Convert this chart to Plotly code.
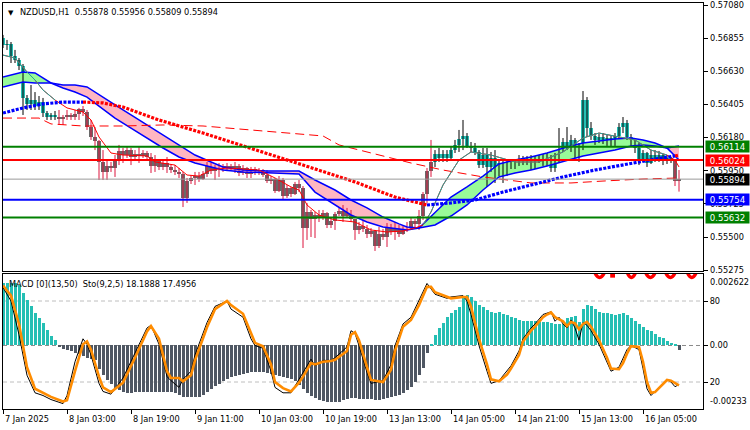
import plotly.graph_objects as go

# ---------------- data ----------------
date_idx = [0, 16, 32, 48, 64, 80, 96, 112, 128, 144, 160]
date_txt = ["7 Jan 2025", "8 Jan 03:00", "8 Jan 19:00", "9 Jan 11:00", "10 Jan 03:00",
            "10 Jan 19:00", "13 Jan 13:00", "14 Jan 05:00", "14 Jan 21:00",
            "15 Jan 13:00", "16 Jan 05:00"]

price_ticks = [0.57080, 0.56855, 0.56630, 0.56405, 0.56180, 0.55950, 0.55725, 0.55500, 0.55275]
price_tick_txt = ["0.57080", "0.56855", "0.56630", "0.56405", "0.56180", "0.55950",
                  "0.55725", "0.55500", "0.55275"]

levels = [0.56114, 0.56024, 0.55894, 0.55754, 0.55632]
level_txt = ["0.56114", "0.56024", "0.55894", "0.55754", "0.55632"]

open_p = [
    .56855, .56808, .56814, .56733, .56705, .56665, .56447, .56406, .56433, .56392,
    .56419, .56344, .56317, .56331, .56317, .56304, .56317, .56331, .56317, .56338,
    .56372, .56351, .56249, .56181, .56154, .56011, .55943, .55984, .55970, .56018,
    .56086, .56058, .56092, .56045, .56065, .56052, .56072, .56045, .55984, .56018,
    .55977, .56004, .55977, .55956, .55943, .55929, .55766, .55881, .55902, .55915,
    .55895, .55929, .55984, .55949, .55970, .55984, .55963, .55984, .55970, .55984,
    .55936, .55970, .55929, .55963, .55943, .55956, .55922, .55881, .55895, .55813,
    .55888, .55779, .55834, .55793, .55861, .55834, .55561, .55670, .55623, .55650,
    .55636, .55663, .55582, .55609, .55657, .55677, .55643, .55677, .55623, .55548,
    .55575, .55555, .55520, .55541, .55439, .55520, .55500, .55561, .55534, .55575,
    .55520, .55555, .55568, .55609, .55589, .55643, .55793, .55949, .56011, .56065,
    .56038, .56065, .56038, .56092, .56127, .56167, .56188, .56120, .56106, .56079,
    .55990, .56058, .55977, .56038, .55949, .56004, .55943, .55997, .55984, .56011,
    .56031, .56004, .56031, .55984, .56018, .56038, .56004, .56052, .55970, .56045,
    .56092, .56147, .56113, .56161, .56092, .56106, .56433, .56242, .56188, .56161,
    .56181, .56154, .56174, .56133, .56188, .56249, .56276, .56181, .56147, .56106,
    .56024, .56072, .56004, .56058, .56031, .56058, .56018, .56038, .56024, .55878]
high_p = [
    .56876, .56842, .56828, .56774, .56719, .56678, .56467, .56535, .56487, .56460,
    .56447, .56358, .56344, .56358, .56365, .56331, .56365, .56344, .56365, .56379,
    .56392, .56365, .56297, .56249, .56161, .56092, .56024, .56011, .56058, .56127,
    .56106, .56113, .56106, .56092, .56113, .56092, .56086, .56072, .56058, .56031,
    .56024, .56045, .55997, .55990, .55970, .55943, .55902, .55922, .55943, .55943,
    .55949, .56011, .56004, .55990, .56004, .55997, .56004, .55997, .56011, .55997,
    .55990, .55977, .55977, .55977, .55970, .55963, .55956, .55915, .55902, .55915,
    .55902, .55854, .55841, .55875, .55888, .55847, .55732, .55684, .55670, .55684,
    .55684, .55670, .55629, .55670, .55698, .55718, .55698, .55684, .55623, .55602,
    .55616, .55582, .55561, .55548, .55568, .55555, .55595, .55589, .55602, .55582,
    .55575, .55602, .55629, .55623, .55684, .55806, .55970, .56161, .56092, .56106,
    .56092, .56092, .56120, .56161, .56229, .56297, .56208, .56147, .56140, .56092,
    .56106, .56106, .56079, .56092, .56024, .56024, .56024, .56024, .56031, .56058,
    .56052, .56052, .56058, .56052, .56058, .56065, .56072, .56058, .56072, .56242,
    .56174, .56249, .56195, .56174, .56140, .56494, .56453, .56283, .56208, .56201,
    .56208, .56195, .56188, .56208, .56276, .56317, .56297, .56201, .56161, .56140,
    .56092, .56079, .56092, .56092, .56086, .56065, .56058, .56045, .56031, .55956]
low_p = [
    .56787, .56774, .56685, .56685, .56637, .56331, .56365, .56365, .56365, .56365,
    .56317, .56297, .56297, .56297, .56263, .56263, .56297, .56297, .56297, .56297,
    .56324, .56229, .56161, .56092, .55888, .55888, .55888, .55943, .55909, .55990,
    .56004, .56038, .55990, .56024, .56004, .56038, .56024, .55936, .55943, .55956,
    .55956, .55936, .55936, .55922, .55902, .55704, .55732, .55861, .55854, .55875,
    .55888, .55909, .55929, .55888, .55909, .55943, .55949, .55956, .55936, .55915,
    .55922, .55902, .55902, .55922, .55922, .55909, .55868, .55861, .55800, .55806,
    .55752, .55766, .55772, .55786, .55806, .55425, .55480, .55500, .55493, .55602,
    .55616, .55561, .55561, .55548, .55643, .55602, .55636, .55602, .55480, .55520,
    .55534, .55493, .55500, .55405, .55425, .55480, .55432, .55514, .55480, .55500,
    .55514, .55534, .55548, .55568, .55548, .55616, .55732, .55909, .55977, .56011,
    .56011, .56011, .56024, .56072, .56079, .56092, .56106, .56079, .56058, .55970,
    .55970, .55841, .55943, .55868, .55915, .55868, .55915, .55963, .55963, .55984,
    .55990, .55990, .55956, .55963, .56004, .55984, .55984, .55943, .55943, .56004,
    .56079, .56092, .56079, .56038, .56011, .56092, .56181, .56161, .56127, .56140,
    .56133, .56120, .56113, .56120, .56174, .56208, .56161, .56113, .56072, .55990,
    .56011, .55977, .55997, .56011, .56011, .55990, .55997, .56004, .55847, .55809]
close_p = [
    .56808, .56814, .56733, .56705, .56665, .56447, .56406, .56433, .56392, .56419,
    .56344, .56317, .56331, .56317, .56304, .56317, .56331, .56317, .56338, .56372,
    .56351, .56249, .56181, .56154, .56011, .55943, .55984, .55970, .56018, .56086,
    .56058, .56092, .56045, .56065, .56052, .56072, .56045, .55984, .56018, .55977,
    .56004, .55977, .55956, .55943, .55929, .55766, .55881, .55902, .55915, .55895,
    .55929, .55984, .55949, .55970, .55984, .55963, .55984, .55970, .55984, .55936,
    .55970, .55929, .55963, .55943, .55956, .55922, .55881, .55895, .55813, .55888,
    .55779, .55834, .55793, .55861, .55834, .55561, .55670, .55623, .55650, .55636,
    .55663, .55582, .55609, .55657, .55677, .55643, .55677, .55623, .55548, .55575,
    .55555, .55520, .55541, .55439, .55520, .55500, .55561, .55534, .55575, .55520,
    .55555, .55568, .55609, .55589, .55643, .55793, .55949, .56011, .56065, .56038,
    .56065, .56038, .56092, .56127, .56167, .56188, .56120, .56106, .56079, .55990,
    .56058, .55977, .56038, .55949, .56004, .55943, .55997, .55984, .56011, .56031,
    .56004, .56031, .55984, .56018, .56038, .56004, .56052, .55970, .56045, .56092,
    .56147, .56113, .56161, .56092, .56106, .56433, .56242, .56188, .56161, .56181,
    .56154, .56174, .56133, .56188, .56249, .56276, .56181, .56147, .56106, .56024,
    .56072, .56004, .56058, .56031, .56058, .56018, .56038, .56024, .55878, .55894]
bull_ranges = [(0, 13), (108, 167)]

band_x = [0, 5, 8, 12, 15, 18, 21, 24, 28, 32, 36, 40, 44, 48, 52, 55, 60, 66, 74, 78,
          83, 87, 91, 95, 99, 101, 104, 108, 112, 116, 120, 124, 128, 132, 136, 141, 145,
          149, 153, 157, 160, 163, 166, 169]
band_fast = [.56590, .56624, .56617, .56549, .56515, .56487, .56453, .56392, .56310, .56242,
             .56174, .56106, .56045, .56004, .55977, .55956, .55943, .55936, .55929, .55806,
             .55718, .55650, .55602, .55568, .55555, .55548, .55561, .55663, .55772, .55841,
             .55915, .55997, .56024, .56045, .56072, .56113, .56140, .56154, .56167, .56174,
             .56161, .56140, .56106, .56024]
band_slow = [.56522, .56556, .56549, .56549, .56535, .56535, .56522, .56467, .56399, .56331,
             .56263, .56195, .56127, .56058, .56011, .55977, .55956, .55949, .55949, .55888,
             .55820, .55752, .55698, .55636, .55589, .55568, .55561, .55582, .55643, .55718,
             .55820, .55909, .55936, .55956, .55984, .56024, .56052, .56072, .56092, .56120,
             .56127, .56120, .56106, .56120]

fma_x = [0, 3, 6, 8, 10, 13, 16, 20, 22, 24, 27, 30, 36, 38, 43, 46, 49, 52, 56, 60,
         64, 68, 72, 74, 76, 79, 83, 88, 92, 96, 100, 103, 105, 107, 110, 114, 117, 122, 128, 134,
         140, 145, 149, 154, 158, 162, 166, 168, 169]
fma = [.56739, .56719, .56624, .56569, .56501, .56433, .56379, .56351, .56297, .56181,
       .56072, .56058, .56052, .56011, .55990, .55922, .55915, .55956, .55970, .55963,
       .55956, .55902, .55841, .55820, .55718, .55650, .55616, .55602, .55548, .55534,
       .55541, .55561, .55582, .55670, .55854, .56024, .56079, .56058, .56011, .56011,
       .56079, .56174, .56208, .56181, .56161, .56092, .56058, .56024, .55977]
fma_up_ranges = [(0, 13), (105, 166)]

dma_x = [0, 9, 12, 20, 30, 40, 50, 62, 70, 80, 84, 91, 97, 102, 110, 120, 132, 142, 150, 160, 169]
dma = [.56310, .56310, .56270, .56256, .56256, .56263, .56256, .56229, .56215, .56188,
       .56127, .56079, .56038, .56004, .55956, .55909, .55868, .55868, .55881, .55895, .55902]

dot_x = [0, 5, 10, 15, 20, 25, 30, 39, 50, 62, 75, 88, 98, 103, 106, 112, 118, 125, 132,
         140, 148, 156, 163, 168, 169]
dot_ma = [.56344, .56379, .56406, .56419, .56419, .56413, .56385, .56297, .56208, .56106,
          .55990, .55875, .55772, .55738, .55718, .55732, .55752, .55806, .55854, .55909,
          .55956, .55997, .56031, .56052, .56058]
dot_segments = [(0, 20, "up"), (20, 106, "down"), (106, 168, "up"), (168, 169, "down")]

macd_hist = [
    0.00229, 0.00229, 0.00229, 0.00229, 0.00222, 0.00193, 0.00167, 0.00145, 0.00119, 0.00101,
    0.00083, 0.00057, 0.00035, 0.00020, -0.00004, -0.00012, -0.00017, -0.00022, -0.00028, -0.00033,
    -0.00040, -0.00045, -0.00050, -0.00055, -0.00085, -0.00108, -0.00128, -0.00140, -0.00156, -0.00165,
    -0.00172, -0.00175, -0.00174, -0.00172, -0.00171, -0.00170, -0.00170, -0.00172, -0.00171, -0.00171,
    -0.00170, -0.00170, -0.00172, -0.00175, -0.00180, -0.00189, -0.00190, -0.00189, -0.00189, -0.00188,
    -0.00180, -0.00170, -0.00160, -0.00150, -0.00140, -0.00130, -0.00122, -0.00117, -0.00112, -0.00108,
    -0.00105, -0.00101, -0.00098, -0.00097, -0.00097, -0.00098, -0.00100, -0.00104, -0.00108, -0.00111,
    -0.00114, -0.00118, -0.00124, -0.00132, -0.00145, -0.00160, -0.00175, -0.00186, -0.00193, -0.00200,
    -0.00205, -0.00207, -0.00208, -0.00207, -0.00206, -0.00200, -0.00195, -0.00193, -0.00194, -0.00196,
    -0.00197, -0.00198, -0.00198, -0.00199, -0.00199, -0.00197, -0.00193, -0.00190, -0.00186, -0.00180,
    -0.00173, -0.00165, -0.00152, -0.00134, -0.00110, -0.00083, -0.00028, 0.00005, 0.00039, 0.00064,
    0.00083, 0.00105, 0.00119, 0.00130, 0.00141, 0.00176, 0.00185, 0.00178, 0.00165, 0.00150,
    0.00141, 0.00130, 0.00123, 0.00120, 0.00123, 0.00115, 0.00110, 0.00105, 0.00100, 0.00092,
    0.00090, 0.00089, 0.00088, 0.00088, 0.00087, 0.00087, 0.00086, 0.00082, 0.00080, 0.00080,
    0.00078, 0.00100, 0.00103, 0.00108, 0.00085, 0.00135, 0.00150, 0.00145, 0.00132, 0.00124,
    0.00120, 0.00118, 0.00114, 0.00112, 0.00114, 0.00118, 0.00112, 0.00100, 0.00088, 0.00080,
    0.00068, 0.00057, 0.00053, 0.00042, 0.00031, 0.00027, 0.00018, 0.00010, 0.00003, -0.00015]

sto_x = [0, 2, 4, 6, 8, 10, 12, 15, 16, 18, 20, 21, 22, 24, 25, 27, 30, 33, 36, 37,
         39, 41, 42, 44, 45, 47, 48, 51, 53, 56, 57, 60, 62, 63, 65, 67, 68, 70, 72, 74,
         75, 77, 78, 80, 82, 83, 86, 87, 88, 89, 91, 92, 95, 97, 98, 100, 102, 104, 106, 107,
         108, 111, 112, 115, 116, 117, 119, 121, 122, 124, 126, 127, 129, 130, 132, 133, 135, 136, 137, 138,
         139, 140, 141, 142, 143, 144, 145, 146, 147, 149, 151, 152, 154, 155, 156, 157, 159, 160, 161, 162,
         163, 165, 166, 167, 168, 169]
sto_d = [91.5, 84, 63, 31, 15, 12, 9, 5.5, 6.5, 28, 48, 50, 44, 24, 16, 12.5, 19.5, 38, 57.5, 61.5,
         52, 28, 23, 23, 20.5, 25, 36, 60.5, 74, 80, 77, 70.5, 57, 49, 46.5, 33, 20, 15.5, 13, 19.5,
         24, 34, 33, 35, 35.5, 36.5, 43, 55, 57, 51, 31, 21.5, 20, 29, 43, 61, 66, 77, 90.5, 90.5,
         86.5, 83, 82, 83, 83, 76, 52, 33, 22, 20.5, 25.5, 30, 40, 50, 58, 61, 68, 70, 71.5, 68,
         66.5, 65, 61.5, 64.5, 63.5, 59, 63, 64.5, 61, 51, 38, 30, 29.5, 34, 41, 46.5, 46, 35, 20, 12,
         12.5, 18, 21.5, 21, 19, 17.4956]
sto_k = [90, 80, 55, 25, 12, 10, 7, 4, 10, 35, 52, 48, 40, 19, 13, 11, 23, 42, 60, 62,
         48, 24, 21, 16, 22, 28, 40, 64, 76, 80, 74, 68, 52, 47, 45, 28, 16, 12, 12, 22,
         27, 37, 32, 36, 36, 38, 46, 58, 56, 47, 27, 19, 21, 33, 47, 63, 68, 80, 93, 89,
         85, 82, 83, 84, 80, 70, 47, 28, 19, 21, 28, 32, 43, 52, 60, 63, 70, 71, 72, 65,
         68, 63, 60, 66, 60, 51, 64, 62, 58, 48, 34, 28, 31, 37, 44, 47, 44, 30, 15, 10,
         13, 19, 22, 20, 16.5, 18.1888]

macd_min, macd_max = -0.00233, 0.002622

# ---------------- styles ----------------
FONT = "DejaVu Sans"
FS = 8.2
TEAL = "#25BFB4"
GRAY = "#696969"
CRIMSON = "#DC143C"
HIST_NEG = "#4F5763"
level_line_colors = ["#008000", "#FF0000", "#9A9A9A", "#0000FF", "#008000"]
level_box_colors = ["#008000", "#FF0000", "#000000", "#0000FF", "#008000"]
level_widths = [2, 2, 1, 2, 2]

fig = go.Figure()
n = len(close_p)
idx = list(range(n))
bull = set()
for a, b in bull_ranges:
    bull.update(range(a, b + 1))

# band fills
segs = []
start = 0
for k in range(1, len(band_x)):
    if abs(band_fast[k] - band_slow[k]) < 1e-9 or k == len(band_x) - 1:
        segs.append((start, k))
        start = k
for s, e in segs:
    diffs = [band_fast[k] - band_slow[k] for k in range(s, e + 1)]
    big = max(diffs, key=abs)
    col = "#98FB98" if big > 0 else "#FFB6C1"
    xs = band_x[s:e + 1] + band_x[s:e + 1][::-1]
    ys = band_fast[s:e + 1] + band_slow[s:e + 1][::-1]
    fig.add_trace(go.Scatter(x=xs, y=ys, fill="toself", fillcolor=col, mode="none",
                             hoverinfo="skip", showlegend=False))

# candles: wicks then bodies
for is_bull, wcol in ((True, "#000000"), (False, CRIMSON)):
    wx, wy = [], []
    for i in idx:
        if (i in bull) == is_bull:
            wx += [i, i, None]
            wy += [low_p[i], high_p[i], None]
    fig.add_trace(go.Scatter(x=wx, y=wy, mode="lines", line=dict(color=wcol, width=1),
                             hoverinfo="skip", showlegend=False))
fig.add_trace(go.Bar(
    x=idx,
    y=[max(abs(close_p[i] - open_p[i]), 0.000012) for i in idx],
    base=[min(open_p[i], close_p[i]) for i in idx],
    width=0.78,
    marker=dict(color=[TEAL if i in bull else GRAY for i in idx], line=dict(width=0)),
    hoverinfo="skip", showlegend=False))

# band edges
for arr in (band_slow, band_fast):
    fig.add_trace(go.Scatter(x=band_x, y=arr, mode="lines", line=dict(color="#0000FF", width=1.5),
                             hoverinfo="skip", showlegend=False))

# dashed MA
fig.add_trace(go.Scatter(x=dma_x, y=dma, mode="lines",
                         line=dict(color="#FF0000", width=1, dash="9px,5px"),
                         hoverinfo="skip", showlegend=False))

# thin MA (red, teal where rising)
fig.add_trace(go.Scatter(x=fma_x, y=fma, mode="lines", line=dict(color="#FF0000", width=1),
                         hoverinfo="skip", showlegend=False))
for a, b in fma_up_ranges:
    pts = [(x, y) for x, y in zip(fma_x, fma) if a <= x <= b]
    fig.add_trace(go.Scatter(x=[p[0] for p in pts], y=[p[1] for p in pts], mode="lines",
                             line=dict(color="#1EA89E", width=1), hoverinfo="skip", showlegend=False))

# dotted long MA
for a, b, kind in dot_segments:
    pts = [(x, y) for x, y in zip(dot_x, dot_ma) if a <= x <= b]
    fig.add_trace(go.Scatter(x=[p[0] for p in pts], y=[p[1] for p in pts], mode="lines",
                             line=dict(color="#0000FF" if kind == "up" else "#FF0000", width=3.2,
                                       dash="3px,1.4px"),
                             hoverinfo="skip", showlegend=False))

# MACD histogram
fig.add_trace(go.Bar(x=idx, y=macd_hist, width=0.75, xaxis="x2", yaxis="y2",
                     marker=dict(color=[TEAL if v >= 0 else HIST_NEG for v in macd_hist],
                                 line=dict(width=0)),
                     hoverinfo="skip", showlegend=False))
# stochastic
fig.add_trace(go.Scatter(x=sto_x, y=sto_k, mode="lines", xaxis="x2", yaxis="y3",
                         line=dict(color="#000000", width=1), hoverinfo="skip", showlegend=False))
fig.add_trace(go.Scatter(x=sto_x, y=sto_d, mode="lines", xaxis="x2", yaxis="y3",
                         line=dict(color="#FF8C00", width=2.6), hoverinfo="skip", showlegend=False))

shapes = []
for lv, lc, lw in zip(levels, level_line_colors, level_widths):
    shapes.append(dict(type="line", xref="x", yref="y", x0=0, x1=175, y0=lv, y1=lv,
                       line=dict(color=lc, width=lw), layer="above"))
for v in (80, 20):
    shapes.append(dict(type="line", xref="x2", yref="y3", x0=0, x1=175, y0=v, y1=v,
                       line=dict(color="#BEBEBE", width=1, dash="4px,3px"), layer="below"))
shapes.append(dict(type="line", xref="x2", yref="y2", x0=0, x1=175, y0=0, y1=0,
                   line=dict(color="#8A8A8A", width=1, dash="4px,3px"), layer="below"))
# clipped big red glyph bottoms at top of indicator window
for x0, x1 in ((147.4, 150.9), (155.6, 158.6), (160.1, 163.6), (165.1, 168.6), (170.6, 173.8)):
    shapes.append(dict(type="circle", xref="x2", yref="y3", x0=x0, x1=x1, y0=97.5, y1=125,
                       line=dict(color="#FF0000", width=3.5), layer="above"))
shapes.append(dict(type="rect", xref="x2", yref="y3", x0=151.8, x1=153.0, y0=97.3, y1=110,
                   fillcolor="#FF0000", line=dict(width=0), layer="above"))

ann = []
# price scale labels
for pv, pt in zip(price_ticks, price_tick_txt):
    ann.append(dict(text=pt, xref="paper", yref="y", x=1, y=pv, xanchor="left", yanchor="middle",
                    xshift=5, showarrow=False, font=dict(size=FS, color="#000000", family=FONT)))
ann.append(dict(text="▼", xref="paper", yref="paper", x=0, y=1, xanchor="left", yanchor="top",
                xshift=3, yshift=-4, showarrow=False, font=dict(size=7, color="#000000", family=FONT)))
ann.append(dict(text="NZDUSD,H1  0.55878 0.55956 0.55809 0.55894", xref="paper", yref="paper",
                x=0, y=1, xanchor="left", yanchor="top", xshift=15, yshift=-2, showarrow=False,
                font=dict(size=FS, color="#000000", family=FONT)))
ann.append(dict(text="MACD [0](13,50)  Sto(9,2,5) 18.1888 17.4956", xref="paper", yref="y3",
                x=0, y=100, xanchor="left", yanchor="top", xshift=4, yshift=-3, showarrow=False,
                font=dict(size=FS, color="#000000", family=FONT)))
for lv, lt, bc in zip(levels, level_txt, level_box_colors):
    ann.append(dict(text=lt, xref="paper", yref="y", x=1, y=lv, xanchor="left", yanchor="middle",
                    xshift=2, showarrow=False, bgcolor=bc, width=43, height=11, borderpad=0,
                    font=dict(size=FS + 0.4, color="#FFFFFF", family=FONT)))
ann.append(dict(text="0.002622", xref="paper", yref="y3", x=1, y=100, xanchor="left", yanchor="top",
                xshift=5, yshift=-1, showarrow=False, font=dict(size=FS, color="#000000", family=FONT)))
ann.append(dict(text="-0.00233", xref="paper", yref="y3", x=1, y=0, xanchor="left", yanchor="bottom",
                xshift=5, yshift=1, showarrow=False, font=dict(size=FS, color="#000000", family=FONT)))
for di, dt in zip(date_idx, date_txt):
    ann.append(dict(text=dt, xref="x2", yref="paper", x=di, y=0, xanchor="left", yanchor="top",
                    xshift=0, yshift=-3, showarrow=False, font=dict(size=FS, color="#000000", family=FONT)))

axis_common = dict(showgrid=False, zeroline=False, showline=True, linecolor="#000000", linewidth=1,
                   mirror=True)
fig.update_layout(
    width=750, height=430,
    margin=dict(l=3, r=47, t=3, b=21),
    paper_bgcolor="#FFFFFF", plot_bgcolor="#FFFFFF",
    font=dict(family=FONT, size=FS, color="#000000"),
    barmode="overlay", bargap=0, showlegend=False,
    xaxis=dict(domain=[0, 1], range=[0, 175], anchor="y", showticklabels=False, ticks="",
               **axis_common),
    yaxis=dict(domain=[0.3387, 1], range=[0.552651, 0.570936], side="right", anchor="x",
               tickvals=price_ticks, showticklabels=False, ticks="outside", ticklen=4,
               tickcolor="#000000", **axis_common),
    xaxis2=dict(domain=[0, 1], range=[0, 175], anchor="y2", tickvals=date_idx,
                showticklabels=False, ticks="outside", ticklen=4, tickcolor="#000000", **axis_common),
    yaxis2=dict(domain=[0, 0.3325], range=[macd_min, macd_max], side="right", anchor="x2",
                tickvals=[0], ticktext=["0.00"], ticks="outside", ticklen=4, tickcolor="#000000",
                **axis_common),
    yaxis3=dict(range=[0, 100], overlaying="y2", side="right", anchor="x2", showgrid=False,
                zeroline=False, showline=False, tickvals=[80, 20], ticktext=["80", "20"],
                ticks="outside", ticklen=4, tickcolor="#000000"),
    shapes=shapes, annotations=ann,
)
fig.write_html("out.html")
